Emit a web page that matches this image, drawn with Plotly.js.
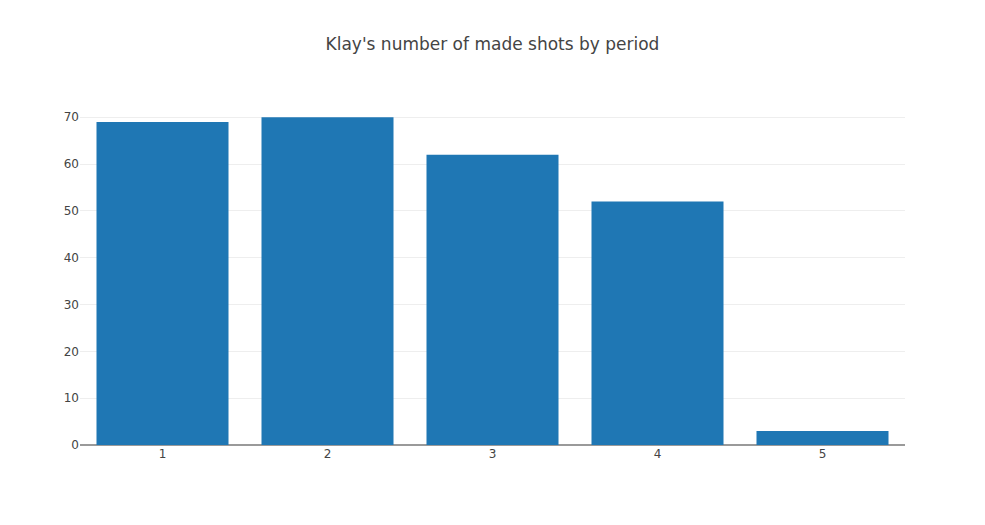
<!DOCTYPE html>
<html>
<head>
<meta charset="utf-8">
<script src="https://cdn.plot.ly/plotly-3.0.1.min.js"></script>
<style>html,body{margin:0;padding:0;}#chart{width:985px;height:525px;}</style>
</head>
<body>
<div id="chart"></div>
<script>
const periods = ['1', '2', '3', '4', '5'];
const madeShots = [69, 70, 62, 52, 3];

Plotly.newPlot('chart', [{
  type: 'bar',
  x: periods,
  y: madeShots,
  marker: {color: '#1f77b4'}
}], {
  width: 985,
  height: 525,
  font: {family: 'DejaVu Sans, Verdana, sans-serif', color: '#444'},
  title: {text: "Klay's number of made shots by period", font: {size: 17}},
  xaxis: {type: 'category'},
  yaxis: {zerolinecolor: '#9a9a9a', zerolinewidth: 2}
}, {displayModeBar: false});
</script>
</body>
</html>
